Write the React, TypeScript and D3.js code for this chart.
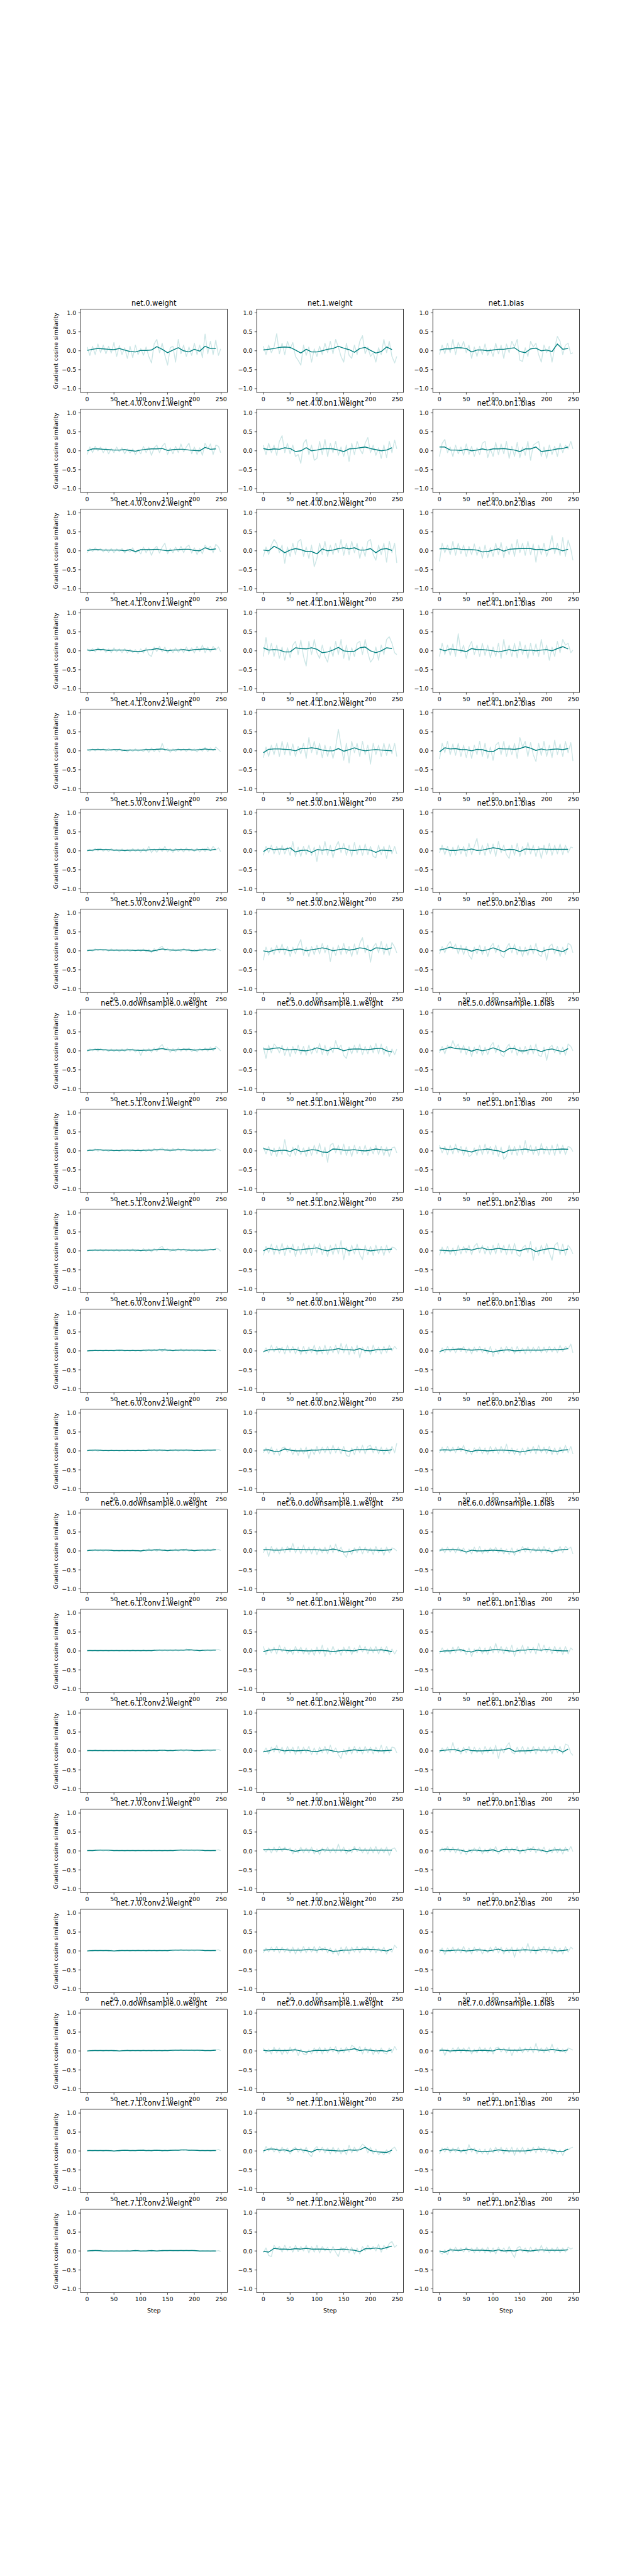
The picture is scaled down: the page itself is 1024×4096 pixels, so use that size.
import React from 'react';
import * as d3 from 'd3';

// figure is laid out in reference pixels (1500 x 6000) and scaled by the viewBox
const FIG_W = 1500;
const FIG_H = 6000;

const TITLES = [
  'net.0.weight', 'net.1.weight', 'net.1.bias',
  'net.4.0.conv1.weight', 'net.4.0.bn1.weight', 'net.4.0.bn1.bias',
  'net.4.0.conv2.weight', 'net.4.0.bn2.weight', 'net.4.0.bn2.bias',
  'net.4.1.conv1.weight', 'net.4.1.bn1.weight', 'net.4.1.bn1.bias',
  'net.4.1.conv2.weight', 'net.4.1.bn2.weight', 'net.4.1.bn2.bias',
  'net.5.0.conv1.weight', 'net.5.0.bn1.weight', 'net.5.0.bn1.bias',
  'net.5.0.conv2.weight', 'net.5.0.bn2.weight', 'net.5.0.bn2.bias',
  'net.5.0.downsample.0.weight', 'net.5.0.downsample.1.weight', 'net.5.0.downsample.1.bias',
  'net.5.1.conv1.weight', 'net.5.1.bn1.weight', 'net.5.1.bn1.bias',
  'net.5.1.conv2.weight', 'net.5.1.bn2.weight', 'net.5.1.bn2.bias',
  'net.6.0.conv1.weight', 'net.6.0.bn1.weight', 'net.6.0.bn1.bias',
  'net.6.0.conv2.weight', 'net.6.0.bn2.weight', 'net.6.0.bn2.bias',
  'net.6.0.downsample.0.weight', 'net.6.0.downsample.1.weight', 'net.6.0.downsample.1.bias',
  'net.6.1.conv1.weight', 'net.6.1.bn1.weight', 'net.6.1.bn1.bias',
  'net.6.1.conv2.weight', 'net.6.1.bn2.weight', 'net.6.1.bn2.bias',
  'net.7.0.conv1.weight', 'net.7.0.bn1.weight', 'net.7.0.bn1.bias',
  'net.7.0.conv2.weight', 'net.7.0.bn2.weight', 'net.7.0.bn2.bias',
  'net.7.0.downsample.0.weight', 'net.7.0.downsample.1.weight', 'net.7.0.downsample.1.bias',
  'net.7.1.conv1.weight', 'net.7.1.bn1.weight', 'net.7.1.bn1.bias',
  'net.7.1.conv2.weight', 'net.7.1.bn2.weight', 'net.7.1.bn2.bias',
];

// raw cosine similarity sampled every 5 steps (plus the last step), smoothed every 10 steps
const RAW_STEPS = [...d3.range(0, 250, 5), 249];
const SMOOTH_STEPS = d3.range(0, 241, 10);
const X_TICKS = [0, 50, 100, 150, 200, 250];
const Y_TICKS = [-1, -0.5, 0, 0.5, 1];

// values in hundredths
const r00 = [10,-12,12,-10,18,-5,15,-8,12,-6,22,-15,14,-10,8,-20,12,-18,15,-10,6,-12,10,-15,-32,18,30,-5,20,-12,-38,8,12,-30,30,-8,15,-15,10,-12,20,-10,15,-18,44,-8,25,-10,28,-12,5];
const s00 = [1,4,6,5,4,3,6,2,-2,-3,1,1,2,11,4,-5,2,8,0,-3,4,-1,12,6,6];
const r01 = [12,-10,15,-5,10,45,-8,20,-10,25,5,22,-15,-25,-38,15,-12,10,-30,5,-15,12,-10,20,-5,25,-8,30,10,-15,-30,20,-12,-20,15,-10,25,40,-8,10,-15,-5,-30,8,-10,30,-5,25,-15,-32,-15];
const s01 = [2,4,6,9,10,9,2,-6,4,-3,-3,0,4,6,12,7,3,-4,6,9,1,-6,-2,10,3];
const r02 = [-10,15,-8,20,-5,30,-10,22,5,25,-5,15,-20,10,-15,12,-10,18,-12,5,-15,20,-8,15,-20,18,-5,25,10,30,-25,-28,8,-15,25,10,20,-10,-30,15,-5,12,-30,8,38,25,-10,15,20,-8,-5];
const s02 = [2,5,5,8,8,6,-3,2,2,0,2,4,4,6,8,-2,-5,5,7,0,2,-2,18,4,6];
const r03 = [-10,10,-5,12,0,10,-5,8,-8,6,-5,10,-3,8,-8,5,-6,5,-10,3,-8,12,-5,10,-12,8,15,-5,12,20,-10,8,-8,12,-5,18,-3,10,20,-8,10,-10,8,-12,20,5,18,-10,15,12,-5];
const s03 = [0,5,5,4,3,2,2,3,1,-1,2,4,5,5,6,1,3,4,4,2,1,0,9,4,5];
const r04 = [15,-10,20,-5,15,-12,25,40,-5,20,-8,15,-15,-10,-33,20,30,-10,15,-25,-20,25,-10,30,-15,20,-5,25,-12,10,-15,15,-28,20,-10,25,5,-8,20,35,-5,15,-12,8,-20,15,-18,25,-5,28,5];
const s04 = [6,3,5,4,8,6,-2,0,8,0,2,5,6,5,2,-2,5,6,8,10,6,3,0,2,8];
const r05 = [-15,20,30,-5,10,-15,15,-8,10,-12,18,-10,12,-15,8,-10,20,25,-18,5,-15,22,-10,18,-8,25,-20,12,-15,22,-18,10,-12,25,-25,15,20,25,-15,10,-20,15,-10,12,-15,20,-5,15,5,25,5];
const s05 = [10,10,2,2,1,4,0,2,5,2,5,5,6,4,2,-2,5,5,10,-2,0,2,5,6,10];
const r06 = [-5,6,-2,8,0,6,-3,5,-4,6,-5,5,-2,6,-6,4,-3,8,-6,2,-8,10,-5,8,-12,6,12,-6,10,20,-8,6,-5,10,-3,12,-5,10,15,-6,8,-10,6,-8,15,5,12,-5,17,10,-3];
const s06 = [1,3,3,2,2,2,2,0,3,-2,3,3,3,4,2,0,2,3,4,4,1,0,8,3,5];
const r07 = [-15,10,-10,15,30,20,-5,15,-33,10,-15,20,-10,25,30,-15,10,-20,15,-42,-20,20,-10,25,-15,15,-10,20,-5,30,-12,20,-10,25,-5,20,-20,10,-15,25,30,-10,-25,15,-10,20,-30,25,-5,20,-32];
const s07 = [2,0,12,5,-5,2,6,3,-2,-2,-8,5,0,2,6,8,5,8,2,2,6,-5,4,6,1];
const r08 = [-28,20,-5,15,-10,25,-12,20,-8,15,-15,12,-10,18,-12,10,-20,15,-18,8,-15,20,-10,22,-18,12,-10,18,-15,30,-5,20,-12,25,-10,18,-30,15,-10,20,-15,8,40,-8,20,-12,35,-15,28,5,-25];
const s08 = [5,6,4,6,4,3,3,2,-3,-2,2,5,-1,4,5,6,6,6,3,4,1,6,5,0,4];
const r09 = [5,-2,6,-3,8,0,6,-4,5,-5,8,-3,5,-5,6,-6,4,-5,3,-8,5,-6,8,-10,-15,10,-2,12,-3,10,-6,5,-5,8,-4,6,-5,10,-3,8,-6,12,-2,15,-5,10,-3,12,2,10,-2];
const s09 = [2,1,4,3,1,2,2,2,0,-2,-2,2,3,6,3,0,2,2,3,1,3,4,5,3,5];
const r10 = [-15,35,-10,20,-15,15,-20,10,-25,8,-18,15,25,-10,28,-15,-40,25,-10,30,-5,-20,15,-15,-30,10,-15,25,-10,30,-20,15,-25,8,-15,20,25,-10,30,-5,-30,-20,10,-25,15,-10,30,37,20,-5,-10];
const s10 = [8,2,3,2,-3,-3,8,6,5,8,4,-5,-3,2,9,0,-2,-1,8,10,0,-5,0,8,6];
const r11 = [-15,20,-10,15,-12,18,-15,45,-5,15,-20,10,25,-10,15,-15,20,-12,15,-18,10,-15,20,-20,30,-10,15,-15,20,-18,25,-10,15,-20,20,-12,18,-15,30,-10,15,-25,10,-15,25,-5,30,15,20,-5,2];
const s11 = [5,0,5,3,1,-2,6,3,3,2,0,-3,0,3,0,3,1,2,0,2,3,0,6,11,5];
const r12 = [4,-1,5,0,6,1,5,-1,6,0,4,-2,5,-1,3,-3,4,-2,5,-1,3,-2,6,-4,8,-2,6,-3,20,0,6,-4,5,-2,6,0,5,-2,7,0,5,-3,6,-1,9,-2,8,0,10,3,-2];
const s12 = [2,3,3,3,2,3,3,1,2,2,2,3,3,4,5,2,2,3,3,3,2,3,5,3,3];
const r13 = [-18,10,-15,15,-10,20,-15,25,-10,22,-12,18,-15,12,-8,20,-20,35,-5,25,-10,20,-18,15,-15,12,-20,10,57,15,-25,20,-32,25,-5,20,-15,25,-10,15,-35,20,-10,15,-15,20,-12,18,-8,20,-15];
const s13 = [-5,4,5,5,4,3,0,6,6,8,6,2,0,0,6,-1,3,8,3,0,2,3,2,1,0];
const r14 = [-22,20,-5,25,-10,18,-12,20,-15,15,-18,12,-20,15,-10,25,-15,20,-20,10,-25,15,22,-10,25,-15,15,-10,20,-20,35,10,25,-15,22,-10,-28,20,-12,25,-15,15,-18,28,-10,18,-15,25,-5,22,-27];
const s14 = [-3,8,5,6,3,3,0,4,3,-1,-2,6,5,5,4,6,11,7,1,5,2,4,5,3,6];
const r15 = [-2,4,-1,6,0,7,-1,5,-2,6,0,4,-3,5,-2,4,-3,6,-2,5,-4,6,-3,12,-5,5,-4,8,-2,12,-3,6,-4,7,-2,6,-3,8,-1,5,-2,7,-3,6,-2,10,0,12,2,8,-2];
const s15 = [1,2,4,3,3,2,2,1,2,2,2,2,3,3,4,3,2,3,3,3,2,3,4,2,4];
const r16 = [-12,12,-5,15,-8,12,-10,15,-8,10,-12,25,-15,10,-15,12,-10,15,-12,10,-28,15,-10,25,-12,15,-18,10,25,-5,20,-12,15,-15,22,-10,15,-12,18,-10,12,-15,-18,15,-10,12,-20,15,-8,12,-8];
const s16 = [-2,7,3,5,4,8,-3,1,2,-4,3,2,3,0,5,7,2,1,3,3,2,-4,2,1,0];
const r17 = [-5,15,-10,12,-15,10,-12,15,-8,12,-15,20,-10,12,33,-10,15,-12,20,-8,18,-15,25,-5,15,-10,-20,15,-12,20,-15,12,-10,22,-8,15,-15,12,-20,15,-10,20,-12,15,-8,18,-10,15,-5,10,8];
const s17 = [5,5,1,1,3,2,5,1,2,5,8,6,2,4,3,-2,5,4,3,5,4,4,4,4,4];
const r18 = [-2,3,-1,5,1,4,0,4,-1,5,0,4,-2,3,-1,4,-2,3,-1,4,-2,5,-3,4,-5,6,-2,8,12,0,6,-2,5,-1,4,-2,6,0,5,-3,4,-2,5,-1,6,0,5,-1,6,4,0];
const s18 = [1,2,3,3,2,2,2,2,2,1,2,1,-1,2,5,3,2,2,3,2,0,2,3,2,4];
const r19 = [-25,10,-12,8,-10,15,-5,18,-10,12,-15,10,-8,15,30,-12,10,-15,12,-10,15,-8,20,-5,15,-28,10,-12,15,-10,20,-8,12,-15,18,-10,20,35,-5,15,-30,10,20,-5,25,-10,18,-12,22,10,-5];
const s19 = [0,-3,2,4,4,0,4,5,0,3,5,8,5,0,3,5,2,4,8,6,0,8,7,4,8];
const r20 = [-8,12,-5,15,25,5,18,-8,15,-10,12,-12,-22,10,-8,15,-10,12,-15,10,20,-5,15,-12,-18,8,20,-5,18,-10,12,-15,10,-12,15,-8,20,-10,-15,10,-25,12,18,-8,12,-15,10,-10,20,15,-5];
const s20 = [2,5,10,6,5,4,-1,4,0,3,8,3,-3,6,6,0,0,4,3,-3,3,5,1,-2,6];
const r21 = [-3,5,0,6,-1,6,0,4,-2,5,-2,4,-3,5,-2,6,-1,5,-3,4,-12,5,-2,6,-4,8,-2,10,17,2,8,-4,6,-3,8,-1,7,0,8,-2,5,-3,6,0,8,-1,10,0,12,6,0];
const s21 = [1,3,4,3,2,2,2,2,3,2,1,2,2,4,6,3,2,3,4,4,2,3,4,4,6];
const r22 = [10,-20,15,-5,18,10,-5,15,-12,10,-15,12,-8,15,-10,12,-12,15,-8,10,-5,20,-10,15,-12,10,-5,27,5,15,-12,-20,10,-8,15,-5,18,-10,12,-8,15,-5,20,-8,18,-10,12,-15,5,-10,5];
const s22 = [5,4,7,8,3,3,4,1,0,3,8,4,0,7,6,0,4,5,5,3,4,6,7,0,-3];
const r23 = [-5,12,-8,15,5,27,8,18,-5,15,-10,12,-15,10,-8,15,-12,10,-10,12,22,-5,15,-10,-15,8,18,-5,15,-12,10,-8,12,-10,15,-8,18,-12,-15,10,-25,8,15,-5,12,-10,10,-12,18,12,0];
const s23 = [2,5,10,6,5,4,-1,4,0,3,8,3,-3,6,6,0,0,4,3,-2,3,5,1,-2,6];
const r24 = [-2,4,0,5,-1,4,0,3,-2,4,-1,3,-2,4,-1,3,-2,4,-1,5,-3,4,-2,5,-2,6,-1,5,8,0,5,-2,6,0,7,-1,5,0,4,-2,5,-1,4,-2,5,0,4,-1,6,4,0];
const s24 = [1,2,3,2,2,1,1,2,2,1,1,2,2,3,3,2,2,3,3,2,2,2,2,2,3];
const r25 = [10,-8,12,-12,8,-15,10,-10,30,-8,-15,10,-12,15,-10,8,-15,10,-12,15,-8,20,-15,10,-30,15,20,-5,15,-10,18,-12,12,-15,15,-8,12,-10,15,-12,10,-8,15,-10,12,-12,10,-15,8,10,-5];
const s25 = [6,3,-1,1,2,-2,5,-2,0,3,2,-3,-4,5,4,2,2,3,1,0,2,5,3,2,3];
const r26 = [15,-5,12,-10,15,-8,18,-5,12,-12,10,-15,-10,8,-12,15,-10,18,-8,12,-10,15,-15,10,-22,-15,15,-10,12,-12,15,-10,27,-5,15,-10,12,-12,20,-8,12,-10,15,-12,18,-8,15,-10,12,8,-2];
const s26 = [8,5,3,6,2,0,-3,2,3,5,2,0,-5,2,2,3,5,2,2,5,3,3,4,5,4];
const r27 = [-2,3,0,4,0,4,-1,4,0,3,-1,4,-2,3,0,4,-1,5,-2,4,-2,6,-2,5,-3,6,-1,8,12,1,6,-2,5,-1,6,0,5,-2,5,-1,4,-2,4,-1,5,0,5,1,7,5,-1];
const s27 = [1,2,2,2,2,2,2,2,2,2,1,2,2,3,4,3,2,3,3,2,2,2,2,3,4];
const r28 = [-12,12,-5,18,-10,15,-8,20,-12,15,-5,18,-15,12,-10,20,-8,15,-12,18,-5,20,-10,12,-15,15,-10,18,-8,27,-23,10,-12,15,-8,18,-10,-23,15,-10,12,-12,15,-8,12,-12,15,-5,10,8,2];
const s28 = [0,7,4,2,5,7,2,3,5,6,8,3,0,5,6,7,0,4,4,3,0,2,3,3,5];
const r29 = [-12,10,-8,12,-10,8,-12,15,-8,12,-5,15,-10,12,20,-5,15,-8,12,-10,15,-8,20,-5,15,-10,18,-8,20,-10,-15,8,15,-5,25,-25,10,-12,15,-8,20,-5,-25,15,22,-10,18,-12,15,5,-8];
const s29 = [2,1,0,1,3,5,2,6,8,3,4,7,4,3,3,0,5,6,-2,2,5,7,3,1,5];
const r30 = [-1,2,-1,3,0,2,-1,3,0,2,-1,3,0,3,-1,2,-1,3,-1,2,-2,3,-1,4,-1,4,0,5,-2,6,0,4,-1,4,0,5,-1,4,0,3,-1,3,0,3,-1,3,0,3,1,3,0];
const s30 = [0,1,1,1,1,1,2,1,1,1,1,2,2,2,3,2,1,2,2,2,2,2,1,2,1];
const r31 = [-5,8,-5,15,-3,12,-5,10,-8,15,-5,12,-8,10,-10,12,-8,10,-5,15,-10,12,-8,15,-10,12,-5,15,-8,20,-5,18,-10,12,-8,15,-18,10,-5,12,-10,15,-5,10,-8,12,-5,15,0,12,5];
const s31 = [-2,3,3,5,3,3,4,0,1,3,0,1,2,3,6,3,3,2,6,1,0,3,3,4,5];
const r32 = [-8,8,-5,12,-3,10,-5,8,-2,12,-5,8,-8,10,-3,12,-5,8,-8,12,-15,5,-8,10,-5,12,-3,10,-8,12,-5,8,-8,12,-5,10,-3,12,-5,10,-5,12,-3,10,-5,15,-2,12,5,18,-5];
const s32 = [-2,3,3,4,5,3,2,3,3,0,-3,0,2,3,0,1,2,2,2,2,3,3,3,4,6];
const r33 = [-1,3,0,3,-1,3,0,2,-1,3,0,2,-1,2,-1,3,0,2,-1,3,-1,3,0,5,0,4,-1,4,0,3,-1,4,0,4,-1,3,0,4,0,3,-1,3,0,3,-1,3,0,3,4,4,1];
const s33 = [1,2,2,1,1,1,1,1,1,1,1,1,2,2,2,1,2,2,2,2,1,1,2,2,2];
const r34 = [-5,8,-8,10,-10,5,-12,8,10,-3,8,-10,5,-12,8,-8,10,-20,5,-10,12,-8,10,-5,12,-8,15,-5,10,-8,12,-12,-15,8,-10,12,-5,15,-8,12,15,-5,12,-8,10,-10,8,-8,12,-5,20];
const s34 = [2,3,-1,-1,5,2,0,0,0,2,2,3,3,4,4,1,-1,3,3,3,5,3,1,1,3];
const r35 = [-5,10,-5,12,-3,10,-5,12,-2,15,-8,5,-10,8,-5,10,-8,8,-10,12,-5,10,-8,12,-5,18,-8,8,-10,5,-12,8,-10,10,-5,12,-8,15,-5,10,-8,12,-10,8,-10,10,-5,15,-5,12,-8];
const s35 = [2,3,2,3,5,1,-2,2,1,0,1,2,2,1,0,-3,-1,2,3,2,3,0,-1,2,3];
const r36 = [-1,3,0,4,0,3,-1,3,0,3,-1,2,-2,3,-1,2,-1,3,-1,2,-3,4,-1,6,0,4,-1,5,0,4,-1,4,0,5,-1,4,0,5,-1,4,-2,3,0,4,-1,5,0,5,3,4,1];
const s36 = [1,2,2,2,2,1,1,1,1,1,0,2,2,3,2,1,2,2,3,2,1,2,2,2,3];
const r37 = [-5,10,-15,12,-5,8,-8,10,-5,12,-3,20,-5,10,-8,15,-5,10,-8,12,-10,8,-5,10,-8,15,-5,18,-3,10,-8,-17,5,-10,8,-5,12,-8,10,-5,8,-10,12,-5,8,-12,10,-5,8,5,0];
const s37 = [3,3,2,2,3,5,4,4,3,3,3,2,2,5,2,-3,-2,2,3,3,2,2,1,2,3];
const r38 = [-3,8,-5,10,-3,8,-5,10,-3,8,-8,5,-8,10,-5,12,-8,5,-5,8,-3,10,-5,8,-8,5,-10,8,-12,5,-5,12,-3,10,-5,8,-3,10,-5,12,-5,8,-8,5,-3,12,-5,12,5,10,-8];
const s38 = [2,3,3,3,2,-3,2,0,0,1,2,1,0,-2,-3,2,5,3,2,2,2,-2,2,3,4];
const r39 = [-1,2,0,2,-1,2,0,2,-1,2,0,2,-1,2,0,2,-1,3,0,2,-1,3,0,2,-1,3,0,3,0,3,0,3,0,4,0,3,1,5,1,4,0,3,-1,3,0,3,0,3,3,4,1];
const s39 = [1,1,1,1,1,1,1,1,1,1,1,1,1,2,2,2,2,2,2,3,2,1,2,2,2];
const r40 = [12,-10,8,-5,10,-8,15,-3,10,-8,5,-10,12,-5,10,-8,8,-10,5,-12,10,-8,15,-15,8,-10,12,-8,5,-12,10,-5,12,-10,8,-5,15,-3,12,-8,10,-5,12,-8,10,-5,12,-10,5,-8,2];
const s40 = [-2,2,3,3,2,0,2,1,0,0,1,1,0,-2,0,2,1,0,4,3,2,2,3,1,-2];
const r41 = [-8,8,-5,5,-8,10,-5,12,-3,5,-10,8,-15,5,-5,10,-8,8,-10,12,-5,20,-5,12,-8,10,-5,15,-15,8,-5,15,-8,12,-5,10,-8,20,-3,15,-5,10,-8,12,-5,10,-10,12,-8,8,2];
const s41 = [-2,0,0,2,3,-1,-3,2,0,1,3,3,2,0,-1,2,2,4,3,2,4,2,1,0,0];
const r42 = [-1,2,0,3,0,2,-1,2,0,2,-1,2,0,2,-1,2,0,3,-1,2,0,3,-1,3,0,3,-1,3,0,3,-1,3,0,3,0,4,-1,4,0,3,-1,2,0,3,0,3,-1,3,3,4,1];
const s42 = [1,1,1,1,1,1,1,1,1,1,1,1,1,1,2,1,1,2,2,2,1,1,2,2,2];
const r43 = [-5,8,-8,10,-3,15,-5,10,-8,12,-5,10,-10,12,-8,10,-5,12,-10,8,-10,10,-5,12,-8,15,-5,8,-10,-20,5,-10,10,-8,12,-5,10,-8,12,-5,10,-8,10,-5,15,-8,12,-5,10,8,-5];
const s43 = [-2,0,5,3,0,2,0,1,2,-1,-2,2,3,0,-3,-1,1,3,1,2,3,1,0,1,2];
const r44 = [-5,8,-3,10,-5,22,-3,8,-8,10,-5,12,-8,10,-5,8,-10,12,-5,10,-8,15,-20,8,-5,12,22,-3,-8,10,-5,12,-8,10,-5,12,-8,10,-3,12,-5,10,-8,15,-5,12,-8,18,15,-5,-12];
const s44 = [0,2,3,3,-1,4,1,0,0,1,2,2,3,7,-1,0,0,1,3,2,2,3,4,-3,5];
const r45 = [0,2,0,3,1,3,0,2,0,2,0,2,0,2,-1,2,0,2,-1,2,0,2,0,2,-1,2,0,2,-1,2,0,3,0,2,1,4,1,3,1,3,0,3,0,3,0,2,0,2,2,3,1];
const s45 = [1,1,2,2,2,1,1,1,1,1,1,1,1,1,1,1,1,2,2,2,2,2,1,1,1];
const r46 = [5,-3,8,-5,10,-3,12,-2,10,2,8,-8,5,-5,10,-5,8,-5,10,-8,5,-10,8,-3,10,-5,8,-5,18,-3,10,-8,5,-5,12,-2,10,-5,8,-8,10,-5,12,-8,8,-5,10,-12,5,8,-2];
const s46 = [3,3,3,4,5,2,-1,2,2,2,-1,3,2,2,2,2,0,5,2,2,2,2,2,2,2];
const r47 = [-3,8,-2,12,-3,10,-5,8,-8,5,-10,5,-5,8,-3,10,-8,5,-5,8,-3,12,-8,5,-3,12,-5,8,-2,12,-8,5,-5,10,-2,12,-5,8,-3,10,-8,5,-5,10,-5,8,-8,10,-2,12,-2];
const s47 = [2,5,4,3,2,-2,2,2,0,1,3,-2,4,3,4,0,2,5,3,2,-2,2,3,2,3];
const r48 = [-1,2,-1,2,0,2,0,2,-1,2,-1,1,-1,2,0,2,-1,2,0,3,0,2,-1,3,0,2,-1,2,0,2,-1,2,0,3,1,4,1,3,0,3,0,3,1,3,0,2,0,2,2,3,0];
const s48 = [0,1,1,1,1,0,1,1,1,1,1,1,1,1,1,1,2,2,2,2,2,2,1,1,1];
const r49 = [-5,8,-3,10,-2,12,-5,10,-3,8,-5,10,-8,8,-5,12,-5,10,-3,12,-5,12,0,10,-5,8,-8,5,-12,10,-5,12,-8,10,-3,12,-5,10,0,12,-3,12,-5,8,-3,10,-8,5,-3,15,8];
const s49 = [2,3,4,4,3,2,2,2,3,3,2,5,3,-1,0,2,2,3,4,5,4,3,2,0,5];
const r50 = [-5,8,-10,8,-3,10,-5,8,-5,12,-5,8,-8,10,-3,8,-8,5,-5,10,-3,12,-5,10,-8,8,-5,10,-17,8,-5,10,-3,20,-5,12,-8,10,-3,12,-5,10,-8,12,-5,8,-8,12,-3,10,5];
const s50 = [2,0,1,2,2,0,1,3,2,0,2,5,0,2,1,2,3,2,1,3,3,2,0,1,3];
const r51 = [-1,2,0,2,0,2,-1,2,0,2,-1,2,-1,2,0,3,-1,2,0,2,-1,3,0,2,-1,3,0,2,-1,3,0,2,0,3,1,4,1,3,1,3,0,3,0,3,0,2,0,3,3,4,1];
const s51 = [0,1,1,1,1,1,0,1,1,1,1,1,1,1,1,1,2,2,2,2,2,2,1,1,2];
const r52 = [8,-5,5,-8,10,-5,8,-10,5,-8,10,-3,8,-12,5,-8,-10,3,-8,8,-5,10,-8,8,-5,10,-3,12,-8,8,-5,10,-3,15,10,-2,12,-8,10,-5,8,-10,5,-8,8,-5,-8,8,-5,12,2];
const s52 = [2,0,2,1,1,2,3,0,-3,0,2,1,2,4,0,2,3,6,1,3,2,0,1,-1,3];
const r53 = [-3,8,-12,5,-5,8,-3,10,-5,8,-3,10,-8,5,-5,10,-3,8,-5,10,-8,8,10,-3,8,-5,10,-12,5,-3,10,-5,8,-3,10,-5,20,-3,8,-5,10,-3,18,-5,8,-3,5,-5,8,5,2];
const s53 = [2,2,0,1,2,1,0,1,2,1,0,5,3,2,2,2,3,3,3,2,2,4,2,0,3];
const r54 = [-1,2,0,2,0,2,-1,2,0,2,-2,1,-1,2,1,3,0,2,0,3,1,4,0,3,-1,3,1,3,-1,3,0,3,1,3,1,4,2,4,1,3,1,3,0,2,0,2,-1,2,2,4,1];
const s54 = [1,1,1,1,1,0,1,2,1,1,2,1,1,2,1,1,2,2,3,2,2,1,1,1,1];
const r55 = [-5,12,0,10,-3,8,-5,10,-3,8,-8,5,10,-3,8,-5,10,-8,-15,5,12,-3,10,-5,8,-8,10,-5,8,-8,5,-10,15,-5,10,-3,8,18,12,-5,10,-8,5,-10,-3,-10,3,-8,5,10,0];
const s55 = [0,5,5,2,3,-1,5,3,1,-3,4,3,2,1,0,0,3,2,3,10,1,-2,-3,-4,2];
const r56 = [-8,8,-3,10,-5,8,-3,10,-5,5,-8,17,-3,8,-8,5,-8,5,-10,8,-5,10,-3,10,-8,8,-5,10,-12,8,-5,10,-8,8,-3,10,-5,12,-3,10,-5,8,-8,5,-8,3,-12,5,3,8,10];
const s56 = [0,5,2,3,0,2,5,0,-2,-1,0,3,1,0,0,0,0,2,4,5,3,2,-1,-2,5];
const r57 = [0,2,-1,2,0,2,-1,1,-1,1,-1,1,-1,1,0,2,-1,1,0,2,-1,1,0,2,-1,1,0,2,-1,1,0,2,0,1,0,2,0,2,0,2,0,1,-1,1,0,1,-1,1,0,1,-1];
const s57 = [0,1,1,0,0,0,0,0,0,1,0,0,1,0,1,1,1,1,1,1,1,0,0,0,0];
const r58 = [-5,8,-12,-15,15,5,12,-3,15,0,12,-3,15,-2,12,0,15,-5,12,-3,15,-5,12,0,10,-5,12,-3,-15,10,-2,12,-5,10,-8,8,-8,12,0,15,3,12,0,18,-3,15,5,20,25,10,15];
const s58 = [-1,-3,7,5,5,4,6,5,7,5,5,5,4,3,4,5,3,2,-2,6,6,8,5,9,13];
const r59 = [-3,-8,3,-10,8,-3,10,-2,8,-3,10,-3,8,-5,10,-3,8,-5,10,-5,8,-8,10,-3,8,-5,12,-5,-18,8,12,-3,8,-5,10,-3,8,-3,15,-3,10,-5,8,-3,10,-5,8,-3,10,5,8];
const s59 = [0,-3,3,2,2,5,2,2,2,1,0,3,0,1,0,3,1,0,2,3,2,2,2,2,3];

const RAW = [
  r00, r01, r02, r03, r04, r05, r06, r07, r08, r09, r10, r11, r12, r13, r14,
  r15, r16, r17, r18, r19, r20, r21, r22, r23, r24, r25, r26, r27, r28, r29,
  r30, r31, r32, r33, r34, r35, r36, r37, r38, r39, r40, r41, r42, r43, r44,
  r45, r46, r47, r48, r49, r50, r51, r52, r53, r54, r55, r56, r57, r58, r59,
];
const SMOOTH = [
  s00, s01, s02, s03, s04, s05, s06, s07, s08, s09, s10, s11, s12, s13, s14,
  s15, s16, s17, s18, s19, s20, s21, s22, s23, s24, s25, s26, s27, s28, s29,
  s30, s31, s32, s33, s34, s35, s36, s37, s38, s39, s40, s41, s42, s43, s44,
  s45, s46, s47, s48, s49, s50, s51, s52, s53, s54, s55, s56, s57, s58, s59,
];

const N_ROWS = 20;
const N_COLS = 3;
// matplotlib subplot defaults, in reference pixels
const LEFT = 0.125 * FIG_W;
const RIGHT = 0.9 * FIG_W;
const TOP = 0.12 * FIG_H;
const BOTTOM = 0.89 * FIG_H;
const AX_W = (RIGHT - LEFT) / (N_COLS + 0.2 * (N_COLS - 1));
const AX_H = (BOTTOM - TOP) / (N_ROWS + 0.2 * (N_ROWS - 1));
const W_GAP = AX_W * 0.2;
const H_GAP = AX_H * 0.2;

const FONT = 'DejaVu Sans, sans-serif';
const TICK_FS = 13.89;
const TITLE_FS = 16.67;
const TICK_LEN = 4.86;
const TICK_PAD = 4.86;
const TEAL = '#008080';

const fmtY = d3.format('.1f');

function Panel({ idx }: { idx: number }) {
  const row = Math.floor(idx / N_COLS);
  const col = idx % N_COLS;
  const left = LEFT + col * (AX_W + W_GAP);
  const top = TOP + row * (AX_H + H_GAP);
  const bottom = top + AX_H;

  const x = d3.scaleLinear().domain([-12.45, 261.45]).range([left, left + AX_W]);
  const y = d3.scaleLinear().domain([-1.1, 1.1]).range([bottom, top]);
  const line = d3.line<[number, number]>().x(d => x(d[0])).y(d => y(d[1]));

  const rawPts: [number, number][] = RAW_STEPS
    .map((s, i) => [s, RAW[idx][i] / 100] as [number, number])
    .filter(d => Number.isFinite(d[1]));
  const smoothPts: [number, number][] = SMOOTH_STEPS
    .map((s, i) => [s, SMOOTH[idx][i] / 100] as [number, number])
    .filter(d => Number.isFinite(d[1]));

  return (
    <g>
      <path d={line(rawPts) || ''} fill="none" stroke={TEAL} strokeOpacity={0.2} strokeWidth={2.08} strokeLinejoin="round" />
      <path d={line(smoothPts) || ''} fill="none" stroke={TEAL} strokeWidth={2.08} strokeLinejoin="round" />
      <rect x={left} y={top} width={AX_W} height={AX_H} fill="none" stroke="#000" strokeWidth={1.11} />
      {X_TICKS.map(t => (
        <g key={'x' + t}>
          <line x1={x(t)} x2={x(t)} y1={bottom} y2={bottom + TICK_LEN} stroke="#000" strokeWidth={1.11} />
          <text x={x(t)} y={bottom + TICK_LEN + TICK_PAD + TICK_FS * 0.76} textAnchor="middle"
            fontSize={TICK_FS} fontFamily={FONT} fill="#000">{t}</text>
        </g>
      ))}
      {Y_TICKS.map(t => (
        <g key={'y' + t}>
          <line x1={left - TICK_LEN} x2={left} y1={y(t)} y2={y(t)} stroke="#000" strokeWidth={1.11} />
          <text x={left - TICK_LEN - TICK_PAD} y={y(t)} dy="0.36em" textAnchor="end"
            fontSize={TICK_FS} fontFamily={FONT} fill="#000">{fmtY(t)}</text>
        </g>
      ))}
      <text x={left + AX_W / 2} y={top - 8.33} textAnchor="middle" fontSize={TITLE_FS} fontFamily={FONT} fill="#000">
        {TITLES[idx]}
      </text>
      {col === 0 && (
        <text transform={`translate(${135}, ${top + AX_H / 2}) rotate(-90)`} textAnchor="middle"
          fontSize={TICK_FS} fontFamily={FONT} fill="#000">Gradient cosine similarity</text>
      )}
      {row === N_ROWS - 1 && (
        <text x={left + AX_W / 2} y={bottom + 35.5 + TICK_FS * 0.76} textAnchor="middle"
          fontSize={TICK_FS} fontFamily={FONT} fill="#000">Step</text>
      )}
    </g>
  );
}

export default function App() {
  return (
    <svg width={1024} height={4096} viewBox={`0 0 ${FIG_W} ${FIG_H}`}
      style={{ position: 'absolute', left: 0, top: 0, display: 'block', background: '#fff' }}>
      <rect x={0} y={0} width={FIG_W} height={FIG_H} fill="#fff" />
      {TITLES.map((_, i) => <Panel key={i} idx={i} />)}
    </svg>
  );
}
